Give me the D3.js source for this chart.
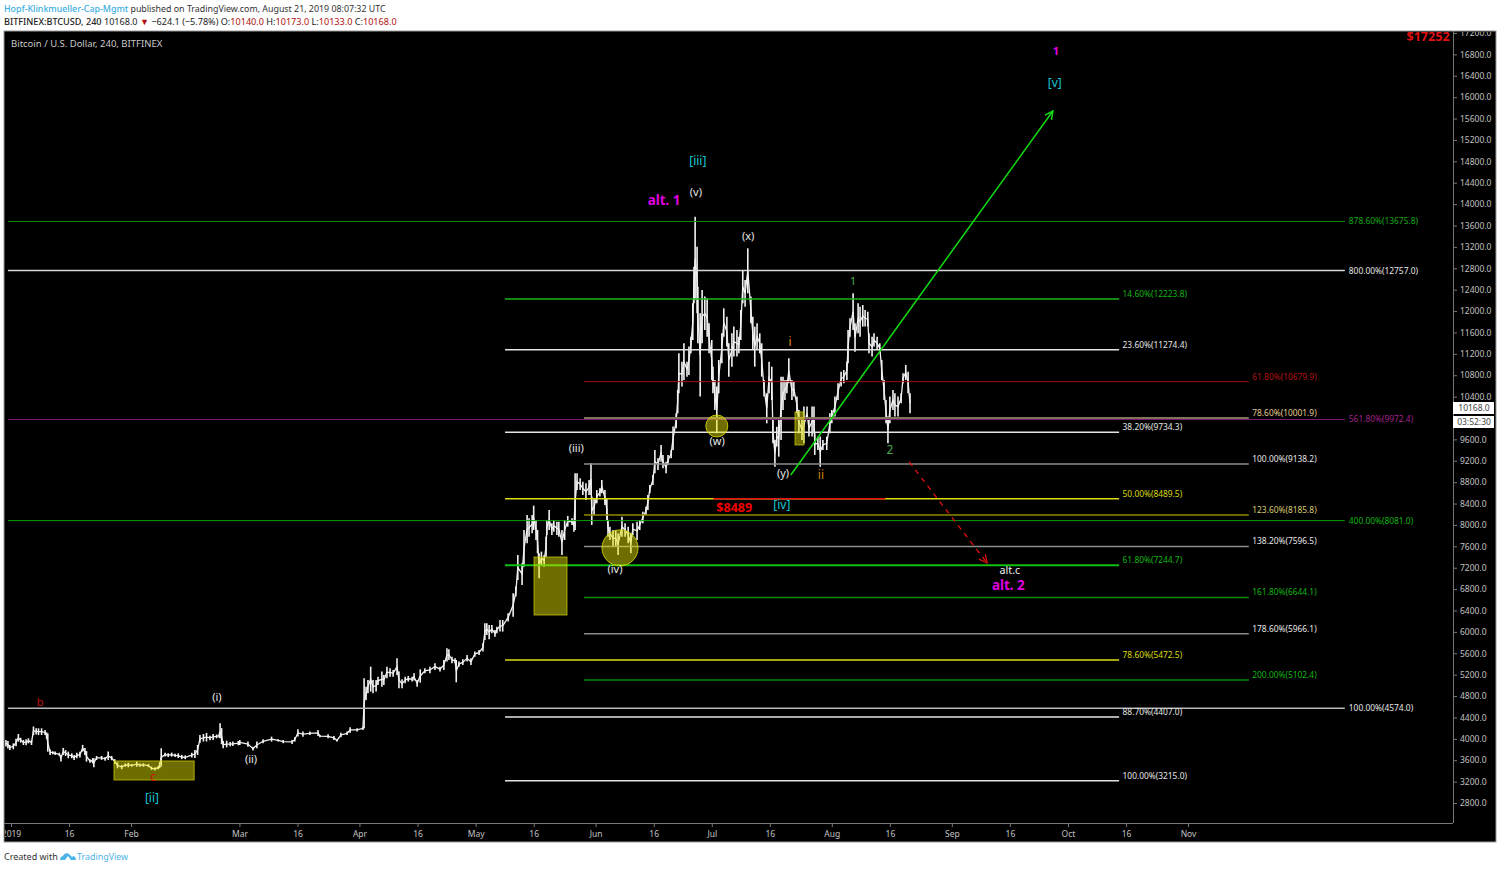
<!DOCTYPE html>
<html><head><meta charset="utf-8">
<script src="https://cdnjs.cloudflare.com/ajax/libs/d3/7.8.5/d3.min.js"></script>
<style>
html,body{margin:0;padding:0;background:#fff;overflow:hidden}
svg{display:block}
text{font-family:"Noto Sans","Open Sans",sans-serif}
</style></head><body>
<svg id="c" width="1500" height="869"></svg>
<script>
// Days counted from 1 Jan 2019, lows and highs of the price swings
const barDay=[
-1.3,-0.8,-0.3,0.6,1.3,1.9,2.5,3.2,3.9,4.5,
5.3,5.8,6.5,7.1,7.9,8.8,9.2,9.5,10.1,10.8,
11.4,12.5,12.9,13.5,14.1,14.8,15.7,16.3,17,17.8,
18.5,19.1,19.5,20.4,21.1,21.4,22.1,23.4,24.3,25.1,
26,26.8,27.5,28.6,29.5,30.3,31.2,32.5,33.3,34.2,
35.5,36.3,37.2,38,38.4,38.8,39.8,40.6,41.5,42.4,
43.2,44.1,45,46.7,47.5,48.2,48.8,49.7,50.5,51.4,
52.2,53.1,53.8,54,54.4,54.8,55.7,56.6,57.3,58.7,
59.1,61.2,62.5,63.5,65.1,67.3,69,70.3,72.6,73.3,
74.1,75.4,77.2,79.3,79.8,81.9,83.4,84.2,85.2,86.8,
87.6,89.4,90.9,91.2,91.7,92.2,92.9,93.5,94.3,94.8,
95.8,96.3,97.1,97.9,98.7,99.7,100.2,101,101.8,102.6,
103.6,104.1,104.9,105.7,106.9,108.2,109.5,110.8,111.8,112.6,
113.1,113.9,114.7,115,115.7,116.7,117.8,118.8,119.8,120.9,
121.9,122.4,122.9,123.5,124.2,125,125.5,126.3,127,128.4,
129.7,130.4,130.9,132,132.5,133.3,133.8,134.6,135,135.6,
136,136.4,137,137.7,138.2,138.4,139,139.7,140.2,141,
141.5,142.3,143,143.8,144.9,145.4,145.7,146.2,147,147.7,
148.5,149.3,149.8,150,150.6,151.3,152.1,152.6,153.4,153.9,
154.2,154.7,155.5,156.2,156.8,157.8,158.6,159.4,160.1,160.6,
161.7,162.4,163.2,164,164.5,165,165.8,166.3,167.1,167.9,
168.4,169.2,169.7,170.5,171,171.8,172.2,172.5,173.3,173.8,
174.6,175.1,175.6,176.1,176.4,176.7,177.2,177.4,178,178.5,
179.2,179.8,180.3,181,181.3,181.8,182.3,182.8,183.6,184.1,
184.9,185.4,186.2,186.7,187.5,188,188.5,189,189.6,190.3,
191.1,191.6,192.1,192.7,193.4,193.9,194.5,195.2,195.8,196.5,
196.8,197.3,197.8,198.3,198.9,199.4,199.9,200.4,200.9,201.7,
202.2,203,203.5,204.3,204.8,205.6,206.1,206.9,207.4,207.6,
208.4,209,209.7,210.7,211.5,212,212.8,213.6,214.4,215.1,
215.9,216.2,216.7,217.5,218,218.8,219.3,220,220.6,221.3,
221.6,222.4,222.9,223.7,224.4,224.9,225.5,226,226.5,227,
227.8,228.3,229.1,229.9,230.4,231.1,231.7,232.2];
const barLow=[
3855,3820,3790,3805,3860,3950,3930,3885,3880,3915,
3885,4070,4080,4070,4072,4072,4000,3761,3700,3710,
3699,3680,3575,3700,3680,3636,3636,3605,3636,3650,
3761,3700,3574,3555,3540,3468,3605,3605,3590,3605,
3600,3530,3449,3431,3480,3468,3480,3480,3480,3480,
3470,3418,3406,3431,3450,3480,3670,3660,3667,3660,
3640,3620,3620,3650,3640,3700,3925,3950,3950,3975,
3980,4010,4020,4010,3900,3823,3840,3860,3865,3880,
3886,3854,3780,3823,3917,3948,3948,3917,3904,3948,
4042,4041,4072,4054,4029,4010,3979,3948,4029,4072,
4116,4135,4166,4197,4727,4852,4883,4852,4883,5007,
4976,5007,5132,5163,5163,5195,4945,4945,5039,5070,
5070,5089,4976,5051,5226,5226,5288,5257,5288,5444,
5475,5413,5413,5057,5350,5382,5444,5382,5537,5569,
5631,5849,5942,5861,5974,5911,5974,6005,6005,6192,
6285,6660,6971,6878,7220,7657,7781,7844,7906,7719,
7470,7002,7252,7220,7407,7813,7906,7813,7875,7813,
7781,7439,7719,7968,8000,7875,7906,8654,8654,8560,
8467,8560,8560,8000,8186,8405,8530,8592,8373,8093,
7781,7719,7595,7595,7439,7781,7781,7657,7470,7813,
7719,7906,8031,8186,8280,8592,8748,8966,9028,9184,
9059,8966,9122,9246,9402,9807,10088,10462,10587,10711,
10773,10805,11210,11459,12145,12207,11958,11397,10400,11397,
11646,11521,11210,10711,10462,10150,9714,10462,11023,11521,
11335,10773,10960,11148,11148,11210,11459,12145,12082,12332,
11771,11272,10960,11272,11210,10773,10400,9900,10462,10337,
9527,9090,9465,9277,9589,10150,10337,10462,10649,10337,
10400,10088,9714,9589,9527,9963,9652,9652,9714,9309,
9402,9090,9402,9402,9714,9900,10026,10337,10587,10649,
10711,11023,11521,11646,11241,11584,11521,11709,11709,11709,
11210,11148,11335,11272,11210,10711,10337,9900,9527,9900,
10150,10026,10026,10275,10649,10711,10462,10088];
const barHigh=[
3980,3960,3885,3915,4000,4090,4020,3980,3990,4010,
3980,4230,4200,4197,4197,4166,4120,4100,3800,3770,
3761,3740,3700,3830,3790,3761,3730,3700,3742,3760,
3886,3830,3770,3617,3640,3636,3680,3680,3660,3761,
3680,3620,3560,3512,3540,3555,3530,3575,3540,3543,
3530,3480,3470,3493,3560,3823,3742,3730,3742,3720,
3730,3700,3690,3740,3790,3886,4072,4090,4110,4060,
4090,4080,4100,4290,4200,3960,3965,3940,3950,3960,
3979,3948,3854,3948,3991,4041,3991,3979,3979,4029,
4178,4135,4135,4166,4072,4085,4054,3991,4116,4135,
4216,4197,4228,5132,4976,5101,5350,5101,5101,5163,
5257,5195,5350,5319,5288,5506,5257,5113,5163,5176,
5163,5226,5101,5300,5319,5350,5413,5350,5475,5693,
5674,5537,5506,5475,5444,5487,5568,5506,5631,5662,
5787,6161,6161,6130,6130,6036,6098,6223,6223,6348,
6722,6847,7439,7283,7906,8186,8124,8186,8361,8093,
7906,7470,7501,7439,7781,8093,8280,8031,8093,8062,
8062,7906,8093,8168,8124,8093,8966,8966,8872,8810,
8779,8841,9153,8530,8498,8654,8685,8841,8654,8498,
8093,7968,7906,7906,7844,8155,8031,7968,7844,8031,
8062,8093,8248,8342,8560,8748,8934,9402,9246,9495,
9308,9184,9308,9402,9840,10088,10524,11210,11054,11397,
11054,11335,11521,12145,12830,13765,13204,12456,11958,12394,
12270,12238,11771,11459,10960,10711,10587,11085,11584,12051,
11895,11397,11584,11709,11646,11521,12020,12768,12581,13173,
12270,11895,11708,11771,11584,11397,10711,10462,11054,10960,
9963,9589,9838,9963,10773,10773,10711,10711,11116,10711,
10680,10400,10150,9963,10213,10213,9963,10213,10213,9714,
9652,9652,9589,9652,10088,10150,10400,10649,10867,10898,
11054,11646,11864,12332,11771,12145,12082,12113,12020,11989,
11584,11521,11584,11521,11397,11085,10711,10337,10026,10400,
10524,10462,10400,10462,10835,10992,10867,10462];

// Axis ticks
const priceTicks=[17200,16800,16400,16000,15600,15200,14800,14400,14000,13600,13200,12800,12400,12000,11600,11200,10800,10400,9600,9200,8800,8400,8000,7600,7200,6800,6400,6000,5600,5200,4800,4400,4000,3600,3200,2800];
const timeTicks=["2019-01-01","2019-01-16","2019-02-01","2019-03-01","2019-03-16","2019-04-01","2019-04-16","2019-05-01","2019-05-16","2019-06-01","2019-06-16","2019-07-01","2019-07-16","2019-08-01","2019-08-16","2019-09-01","2019-09-16","2019-10-01","2019-10-16","2019-11-01"];
const timeLabels=["2019","16","Feb","Mar","16","Apr","16","May","16","Jun","16","Jul","16","Aug","16","Sep","16","Oct","16","Nov"];

// Fibonacci levels: price, percent, line colour, text colour, weight
const longLevels=[[13675.8,"878.60%","#0b8f0b","#14a814",1],[12757.0,"800.00%","#d8d8d8","#e6e6e6",1.5],[9972.4,"561.80%","#7d1a70","#a0208c",1],[8081.0,"400.00%","#0da00d","#14b414",1],[4574.0,"100.00%","#b8b8b8","#e6e6e6",1.5]];
const midLevels=[[12223.8,"14.60%","#18b418","#14b414",1.5],[11274.4,"23.60%","#e4e4e4","#e6e6e6",1.5],[9734.3,"38.20%","#e4e4e4","#e6e6e6",1.5],[8489.5,"50.00%","#dcdc10","#dcdc10",1.5],[7244.7,"61.80%","#10c010","#14b414",2],[5472.5,"78.60%","#dcdc10","#dcdc10",1.5],[4407.0,"88.70%","#e4e4e4","#e6e6e6",1.5],[3215.0,"100.00%","#e4e4e4","#e6e6e6",1.5]];
const farLevels=[[10679.9,"61.80%","#a00c0c","#b01414",1],[10001.9,"78.60%","#80745c","#e0cc90",2],[9138.2,"100.00%","#8c8c8c","#e6e6e6",1.5],[8185.8,"123.60%","#8c8c00","#d8cc70",1.5],[7596.5,"138.20%","#8c8c8c","#e6e6e6",1.5],[6644.1,"161.80%","#0a8a0a","#14b414",1.5],[5966.1,"178.60%","#8c8c8c","#e6e6e6",1.5],[5102.4,"200.00%","#0a8a0a","#14b414",1.5]];

// Start and end of the three level groups, in days
const longSpan=[-0.8,344.5], midSpan=[127.6,286.2], farSpan=[148,319.7];

// Zones: startDay, endDay, topPrice, bottomPrice
const boxes=[[135.1,143.6,7400,6316],[26.6,47.3,3586,3231],[202.5,204.8,10113,9496]];
// Circles: day, price
const circleDay=[157.3,182.3], circlePrice=[7570,9851], circleSize=[18,11];
// Red support line
const redLine=[181.4,225.8,8489];
// Projection arrows: day0, price0, day1, price1
const greenArrow=[201.4,8935,269.1,15741];
const redArrow=[232,9178,252.1,7289];

// Wave labels
const noteText=["alt. 1","(v)","[iii]","(x)","1","i","(w)","(y)","ii","2","(iii)","(iv)","$8489","[iv]","[ii]","(i)","(ii)","b","c","alt.c","alt. 2","1","[v]","$17252"];
const noteDay=[168.7,176.9,177.4,190.4,217.5,201.2,182.4,199.4,209.2,227,146,156,186.8,199.1,36.4,53.2,62,7.5,36.7,258,257.6,269.9,269.6,366];
const notePrice=[14077,14227,14806,13404,12562,11422,9570,8972,8935,9402,9440,7177,8317,8374,2894,4783,3624,4690,3287,7158,6878,16863,16265,17125];
const noteColor=["#e000e0","#e8e8e8","#14c8d8","#e8e8e8","#4ca84c","#e08a10","#e8e8e8","#e8e8e8","#d08010","#4ca84c","#e8e8e8","#e8e8e8","#f00000","#14c8d8","#14c8d8","#e8e8e8","#e8e8e8","#c81010","#d81010","#f0f0f0","#e000e0","#e000e0","#14c8d8","#e01010"];
const noteSize=[13.4,11,12,11,11.5,12,11,11,12,12,11,11,12.5,12,12,11,11,11,12,10.7,13.4,11,12,12.6];
const noteBold=[1,0,0,0,0,0,0,0,0,0,0,0,1,0,0,0,0,0,0,0,1,1,0,1];

const W=1500,H=869,left=4,top_=31,right=1496,bottom=842,axisX=1453,axisY=823;
const svg=d3.select("#c");
const day0=Date.UTC(2019,0,1);
const asDate=d=>new Date(day0+d*864e5);
const x=d3.scaleUtc().domain([new Date(Date.UTC(2019,0,1)),new Date(Date.UTC(2019,10,1))]).range([11,1188]);
const y=d3.scaleLinear().domain([2800,17200]).range([803,33]);
const X=d=>x(asDate(d));

svg.append("rect").attr("x",left).attr("y",top_).attr("width",right-left).attr("height",bottom-top_).attr("fill","#000").attr("stroke","#9a9a9a").attr("stroke-width",1);
const defs=svg.append("defs");
defs.append("clipPath").attr("id","pane").append("rect").attr("x",left+1).attr("y",top_+1).attr("width",axisX-left-1).attr("height",axisY-top_-1);
defs.append("clipPath").attr("id","timeclip").append("rect").attr("x",left+1).attr("y",axisY).attr("width",axisX-left).attr("height",bottom-axisY);
defs.append("clipPath").attr("id","priceclip").append("rect").attr("x",axisX).attr("y",top_+1).attr("width",right-axisX).attr("height",axisY-top_);
const mg=defs.append("marker").attr("id","ga").attr("viewBox","0 0 10 10").attr("refX",9).attr("refY",5).attr("markerWidth",10).attr("markerHeight",10).attr("markerUnits","userSpaceOnUse").attr("orient","auto");
mg.append("path").attr("d","M1 1L9 5L1 9").attr("fill","none").attr("stroke","#10dc10").attr("stroke-width",1.5);
const mr=defs.append("marker").attr("id","ra").attr("viewBox","0 0 10 10").attr("refX",9).attr("refY",5).attr("markerWidth",10).attr("markerHeight",10).attr("markerUnits","userSpaceOnUse").attr("orient","auto");
mr.append("path").attr("d","M1 1L9 5L1 9").attr("fill","none").attr("stroke","#e01010").attr("stroke-width",1.3);

const pane=svg.append("g").attr("clip-path","url(#pane)");

// price swings
const bars=barDay.map((d,i)=>({d,lo:barLow[i],hi:barHigh[i]}));
pane.append("path").attr("d",d3.line().x(b=>X(b.d)).y(b=>y((b.lo+b.hi)/2))(bars)).attr("fill","none").attr("stroke","#f0f0f0").attr("stroke-width",1.3);
pane.selectAll("line.bar").data(bars).join("line").attr("class","bar")
 .attr("x1",b=>X(b.d)).attr("x2",b=>X(b.d)).attr("y1",b=>y(b.lo)).attr("y2",b=>y(b.hi))
 .attr("stroke","#f2f2f2").attr("stroke-width",1.6);

// levels
function drawLevels(rows,span,labelOffset,labelDx){
 const g=pane.append("g");
 rows.forEach(r=>{
  g.append("line").attr("x1",X(span[0])).attr("x2",X(span[1])).attr("y1",y(r[0])).attr("y2",y(r[0])).attr("stroke",r[2]).attr("stroke-width",r[4]);
  g.append("text").attr("x",X(span[1])+labelDx).attr("y",y(r[0])+labelOffset).attr("dy","0.35em").attr("font-size",8.4).attr("fill",r[3]).text(r[1]+"("+r[0].toFixed(1)+")");
 });
}
drawLevels(longLevels,longSpan,0,4);
drawLevels(midLevels,midSpan,-5,3.5);
drawLevels(farLevels,farSpan,-5,3.5);
pane.append("line").attr("x1",X(redLine[0])).attr("x2",X(redLine[1])).attr("y1",y(redLine[2])).attr("y2",y(redLine[2])).attr("stroke","#e81010").attr("stroke-width",1.5);

// zones
pane.selectAll("rect.zone").data(boxes).join("rect").attr("class","zone")
 .attr("x",b=>X(b[0])).attr("width",b=>X(b[1])-X(b[0])).attr("y",b=>y(b[2])).attr("height",b=>y(b[3])-y(b[2]))
 .attr("fill","#e8e800").attr("fill-opacity",.47).attr("stroke","#c8c800").attr("stroke-opacity",.8).attr("stroke-width",1);
pane.selectAll("circle.zone").data(circleDay).join("circle").attr("class","zone")
 .attr("cx",d=>X(d)).attr("cy",(d,i)=>y(circlePrice[i])).attr("r",(d,i)=>circleSize[i])
 .attr("fill","#e8e800").attr("fill-opacity",.47).attr("stroke","#d8d800").attr("stroke-opacity",.85).attr("stroke-width",1);

// arrows
pane.append("line").attr("x1",X(greenArrow[0])).attr("y1",y(greenArrow[1])).attr("x2",X(greenArrow[2])).attr("y2",y(greenArrow[3])).attr("stroke","#10dc10").attr("stroke-width",1.5).attr("marker-end","url(#ga)");
pane.append("line").attr("x1",X(redArrow[0])).attr("y1",y(redArrow[1])).attr("x2",X(redArrow[2])).attr("y2",y(redArrow[3])).attr("stroke","#e01010").attr("stroke-width",1.3).attr("stroke-dasharray","5 5").attr("marker-end","url(#ra)");

// notes
pane.selectAll("text.note").data(noteText).join("text").attr("class","note")
 .attr("x",(d,i)=>X(noteDay[i])).attr("y",(d,i)=>y(notePrice[i])).attr("dy","0.35em").attr("text-anchor","middle")
 .attr("font-family",'"DejaVu Sans",sans-serif')
 .attr("font-size",(d,i)=>noteSize[i]).attr("font-weight",(d,i)=>noteBold[i]?700:400)
 .attr("fill",(d,i)=>noteColor[i]).text(d=>d);
pane.append("text").attr("x",11).attr("y",44).attr("dy","0.35em").attr("font-size",9.5).attr("fill","#c8c8c8").text("Bitcoin / U.S. Dollar, 240, BITFINEX");

// axes
const yAxis=svg.append("g").attr("clip-path","url(#priceclip)").append("g").attr("transform",`translate(${axisX},0)`)
 .call(d3.axisRight(y).tickValues(priceTicks).tickSize(4).tickPadding(3).tickFormat(d3.format(".1f")));
const xAxis=svg.append("g").attr("clip-path","url(#timeclip)").append("g").attr("transform",`translate(0,${axisY})`)
 .call(d3.axisBottom(x).tickValues(timeTicks.map(s=>new Date(s+"T00:00:00Z"))).tickSize(4).tickPadding(4).tickFormat((d,i)=>timeLabels[i]));
[yAxis,xAxis].forEach(g=>{g.selectAll("text").attr("fill","#c0c0c0").attr("font-size",8.5).attr("font-family",'"Noto Sans",sans-serif');g.selectAll(".tick line").attr("stroke","#777");g.select(".domain").remove();});
svg.append("line").attr("x1",axisX+.5).attr("x2",axisX+.5).attr("y1",top_).attr("y2",axisY).attr("stroke","#777");
svg.append("line").attr("x1",left).attr("x2",axisX).attr("y1",axisY+.5).attr("y2",axisY+.5).attr("stroke","#777");

// price tags
[[402,"10168.0"],[416,"03:52:30"]].forEach(t=>{
 svg.append("rect").attr("x",axisX).attr("y",t[0]).attr("width",41).attr("height",12).attr("fill","#fff");
 svg.append("text").attr("x",axisX+21).attr("y",t[0]+6).attr("dy","0.35em").attr("text-anchor","middle").attr("font-size",8.5).attr("fill","#444").text(t[1]);
});

// header
const h1=svg.append("text").attr("x",4).attr("y",12).attr("font-size",8.85).attr("font-family","Roboto").attr("fill","#333");
h1.append("tspan").attr("fill","#3aaee0").attr("font-weight",500).text("Hopf-Klinkmueller-Cap-Mgmt");
h1.append("tspan").text(" published on TradingView.com, August 21, 2019 08:07:32 UTC");
const h2=svg.append("text").attr("x",4).attr("y",25).attr("font-size",9.1).attr("font-family","Roboto").attr("fill","#222");
h2.append("tspan").attr("font-weight",500).text("BITFINEX:BTCUSD, 240");
h2.append("tspan").text("  10168.0 ");
h2.append("tspan").attr("fill","#b01010").text("▼");
h2.append("tspan").text(" −624.1 (−5.78%) ");
[["O:","10140.0"],["H:","10173.0"],["L:","10133.0"],["C:","10168.0"]].forEach(p=>{
 h2.append("tspan").text(p[0]);
 h2.append("tspan").attr("fill","#b01010").text(p[1]+" ");
});

// footer
svg.append("text").attr("x",4).attr("y",860).attr("font-size",9).attr("font-family","Roboto").attr("fill","#333").text("Created with");
svg.append("path").attr("transform","translate(60,851)").attr("d","M0 9C0 6 2 5 3 5C4 2 8 1 10 4L13 7L11 9L8 5L5 9ZM10 9L13 5C14 5 16 6 16 9Z").attr("fill","#4db4e8");
svg.append("text").attr("x",77).attr("y",860).attr("font-size",8.9).attr("font-family","Roboto").attr("fill","#4db4e8").text("TradingView");
</script>
</body></html>
